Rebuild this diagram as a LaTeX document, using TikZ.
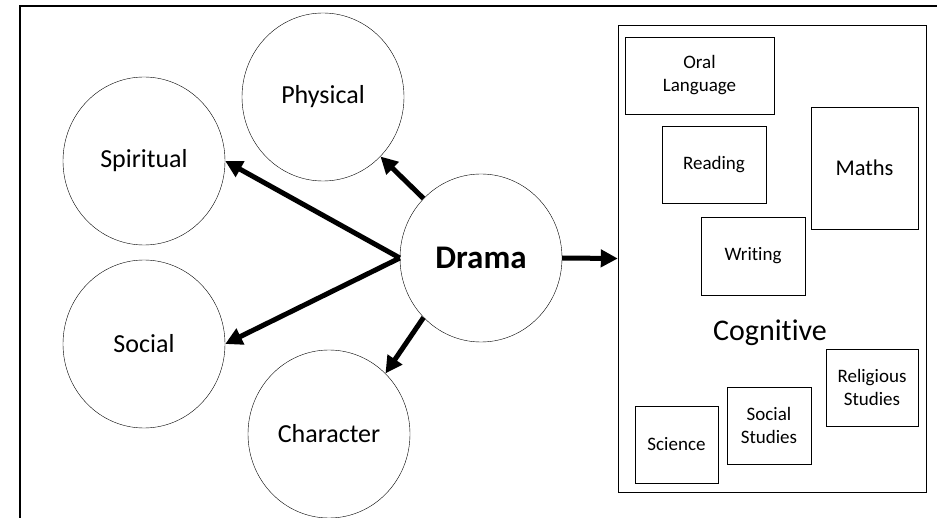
\documentclass[tikz,border=0pt]{standalone}
\usepackage{fontspec}
\setmainfont{Carlito}[Ligatures=NoCommon]
\usetikzlibrary{shapes.geometric,arrows.meta}

\begin{document}
\begin{tikzpicture}[x=1pt,y=-1pt,area/.style={draw,shape=ellipse,inner sep=0pt,minimum width=162pt,minimum height=168pt,font=\fontsize{26}{30}\selectfont},subject/.style={draw,shape=rectangle,align=center,inner sep=0pt,minimum height=77pt,font=\fontsize{19}{23}\selectfont},link/.style={line width=5pt,-{Triangle[length=17pt,width=17pt]}}]
\useasboundingbox (0,0) rectangle (937,518);
\draw[line width=2pt] (937,6) -- (20,6) -- (20,518);
% the areas round drama
\node[area] (physical) at (323,97) {Physical};
\node[area] (spiritual) at (144,161) {Spiritual};
\node[area] (social) at (144,344) {Social};
\node[area] (character) at (329,434) {Character};
\node[area,font=\fontsize{33}{38}\selectfont\bfseries] (drama) at (481,258) {Drama};
% cognitive box
\node[draw,minimum width=308pt,minimum height=467pt,inner sep=0pt] (cognitive) at (772,258.5) {};
\node[font=\fontsize{30}{34}\selectfont] (cogtext) at (770,333) {Cognitive};
\node[subject,minimum width=149pt] (oral) at (699.5,75.5) {Oral\\Language};
\node[subject,minimum width=104pt] (reading) at (714,164.5) {Reading};
\node[subject,minimum width=107pt,minimum height=122pt,font=\fontsize{22.5}{26}\selectfont] (maths) at (864.5,168) {Maths};
\node[subject,minimum width=104pt,minimum height=78pt] (writing) at (753,256) {Writing};
\node[subject,minimum width=92pt] (religious) at (872,387.5) {Religious\\Studies};
\node[subject,minimum width=84pt] (socstudies) at (769,425.5) {Social\\Studies};
\node[subject,minimum width=83pt] (science) at (676.5,444.5) {Science};
% arrows
\draw[link] (drama.west) -- (spiritual.east);
\draw[link] (drama.west) -- (social.east);
\draw[link] (drama.134) -- (physical.-46);
\draw[link] (drama.-134) -- (character.47);
\draw[link] (drama.east) -- (cognitive.west);
\end{tikzpicture}
\end{document}
